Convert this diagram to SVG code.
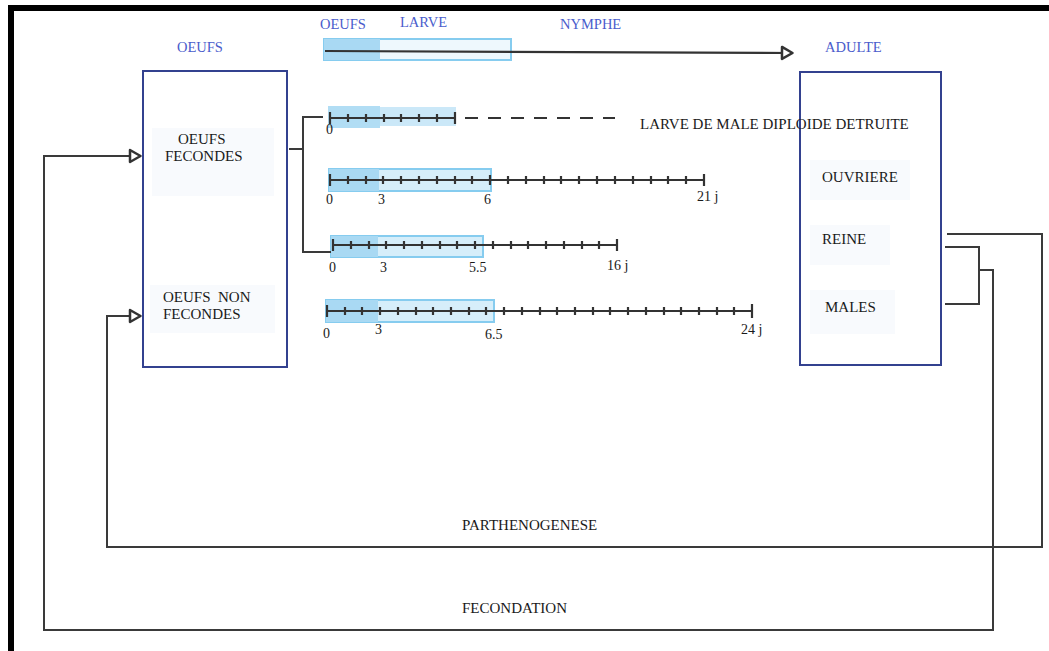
<svg xmlns="http://www.w3.org/2000/svg" width="1049" height="651" viewBox="0 0 1049 651">
<style>
.t{font-family:"Liberation Serif","Times New Roman",serif;font-size:15px;fill:#1a1a1a}
.b{font-family:"Liberation Serif","Times New Roman",serif;font-size:14.5px;fill:#4a5ccc}
.n{font-family:"Liberation Serif","Times New Roman",serif;font-size:14px;fill:#1a1a1a}
.box{fill:none;stroke:#33418f;stroke-width:2}
.ln{fill:none;stroke:#3a3a3a;stroke-width:2}
.tl{fill:none;stroke:#333;stroke-width:2.2}
.hf{fill:#a9d9f3}
.ho{fill:#d6eefa;stroke:#86ccef;stroke-width:2}
.bg{fill:#f8fafd}
</style>
<defs>
<marker id="ah" viewBox="0 0 14 16" refX="13" refY="8" markerWidth="14" markerHeight="16" markerUnits="userSpaceOnUse" orient="auto">
<path d="M2,2 L12.5,8 L2,14 Z" fill="#fff" stroke="#333" stroke-width="2.5" stroke-linejoin="round"/>
</marker>
</defs>
<rect x="0" y="0" width="1049" height="651" fill="#fff"/>
<rect x="8" y="5" width="1041" height="6" fill="#000"/>
<rect x="8" y="5" width="6" height="646" fill="#000"/>

<g id="bgs">
<rect class="bg" x="152" y="128" width="122" height="68"/>
<rect class="bg" x="150" y="285" width="125" height="48"/>
<rect class="bg" x="810" y="160" width="100" height="40"/>
<rect class="bg" x="810" y="225" width="80" height="40"/>
<rect class="bg" x="810" y="290" width="85" height="44"/>
</g>

<g id="stage-labels">
<text class="b" x="177" y="52">OEUFS</text>
<text class="b" x="320" y="29">OEUFS</text>
<text class="b" x="400" y="27">LARVE</text>
<text class="b" x="560" y="29">NYMPHE</text>
<text class="b" x="825" y="52">ADULTE</text>
</g>

<g id="node-oeufs">
<rect class="box" x="143" y="71" width="144" height="296"/>
<text class="t" x="178" y="144">OEUFS</text>
<text class="t" x="165" y="161">FECONDES</text>
<text class="t" x="163" y="302" style="white-space:pre">OEUFS  NON</text>
<text class="t" x="163" y="319">FECONDES</text>
</g>

<g id="node-adulte">
<rect class="box" x="800" y="72" width="141" height="293"/>
<text class="t" x="822" y="182">OUVRIERE</text>
<text class="t" x="822" y="244">REINE</text>
<text class="t" x="825" y="312">MALES</text>
</g>

<g id="top-timeline">
<rect class="ho" x="324" y="39" width="187" height="21" style="fill:#eef8fd"/>
<rect class="hf" x="324" y="39" width="56" height="21"/>
<line class="tl" x1="325" y1="51" x2="793" y2="53" marker-end="url(#ah)"/>
</g>

<g id="timelines">
<rect class="hf" x="328" y="106" width="52" height="22" opacity="0.9"/>
<rect class="hf" x="380" y="107" width="76" height="19" opacity="0.6"/>
<path class="tl" d="M330 118 H455 M330 112 v12 M348 114 v8 M366 114 v8 M384 114 v8 M401 114 v8 M419 114 v8 M437 114 v8 M455 112 v12"/>
<path class="tl" d="M465 118 H615" stroke-dasharray="13 10"/>
<text class="t" x="640" y="129">LARVE DE MALE DIPLOIDE DETRUITE</text>
<text class="n" x="326" y="134">0</text>

<rect class="ho" x="329" y="169" width="162" height="22"/>
<rect class="hf" x="329" y="169" width="50" height="22"/>
<path class="tl" d="M330 180 H704 M330 174 v12 M348 176 v8 M366 176 v8 M383 176 v8 M401 176 v8 M419 176 v8 M437 176 v8 M455 176 v8 M472 176 v8 M490 175 v10 M508 176 v8 M526 176 v8 M544 176 v8 M561 176 v8 M579 176 v8 M597 176 v8 M615 176 v8 M633 176 v8 M651 176 v8 M668 176 v8 M686 176 v8 M704 174 v12"/>
<text class="n" x="326" y="204">0</text>
<text class="n" x="378" y="204">3</text>
<text class="n" x="484" y="204">6</text>
<text class="n" x="697" y="201">21 j</text>

<rect class="ho" x="331" y="236" width="152" height="21"/>
<rect class="hf" x="331" y="236" width="47" height="21"/>
<path class="tl" d="M333 245 H617 M333 239 v12 M351 241 v8 M369 241 v8 M386 241 v8 M404 241 v8 M422 241 v8 M440 241 v8 M457 241 v8 M475 241 v8 M493 241 v8 M511 241 v8 M528 241 v8 M546 241 v8 M564 241 v8 M582 241 v8 M599 241 v8 M617 239 v12"/>
<text class="n" x="329" y="272">0</text>
<text class="n" x="380" y="272">3</text>
<text class="n" x="469" y="272">5.5</text>
<text class="n" x="607" y="270">16 j</text>

<rect class="ho" x="326" y="300" width="168" height="22"/>
<rect class="hf" x="326" y="300" width="52" height="22"/>
<path class="tl" d="M327 311 H752 M327 305 v12 M345 307 v8 M362 307 v8 M380 307 v8 M398 307 v8 M416 307 v8 M433 307 v8 M451 307 v8 M469 307 v8 M486 307 v8 M504 307 v8 M522 307 v8 M540 307 v8 M557 307 v8 M575 307 v8 M593 307 v8 M610 307 v8 M628 307 v8 M646 307 v8 M664 307 v8 M681 307 v8 M699 307 v8 M717 307 v8 M734 307 v8 M752 304 v14"/>
<text class="n" x="323" y="338">0</text>
<text class="n" x="375" y="334">3</text>
<text class="n" x="485" y="339">6.5</text>
<text class="n" x="741" y="334">24 j</text>
</g>

<g id="connectors">
<path class="ln" d="M289 149 H303 M323 117 H303 V252 H331"/>
<path class="ln" d="M947 234 H1042 V547 H107 V316 H141" marker-end="url(#ah)"/>
<path class="ln" d="M945 247 H979 V304 H945 M979 270 H993 V630 H44 V156 H141" marker-end="url(#ah)"/>
</g>

<g id="loop-labels">
<text class="t" x="462" y="530">PARTHENOGENESE</text>
<text class="t" x="462" y="613">FECONDATION</text>
</g>
</svg>
